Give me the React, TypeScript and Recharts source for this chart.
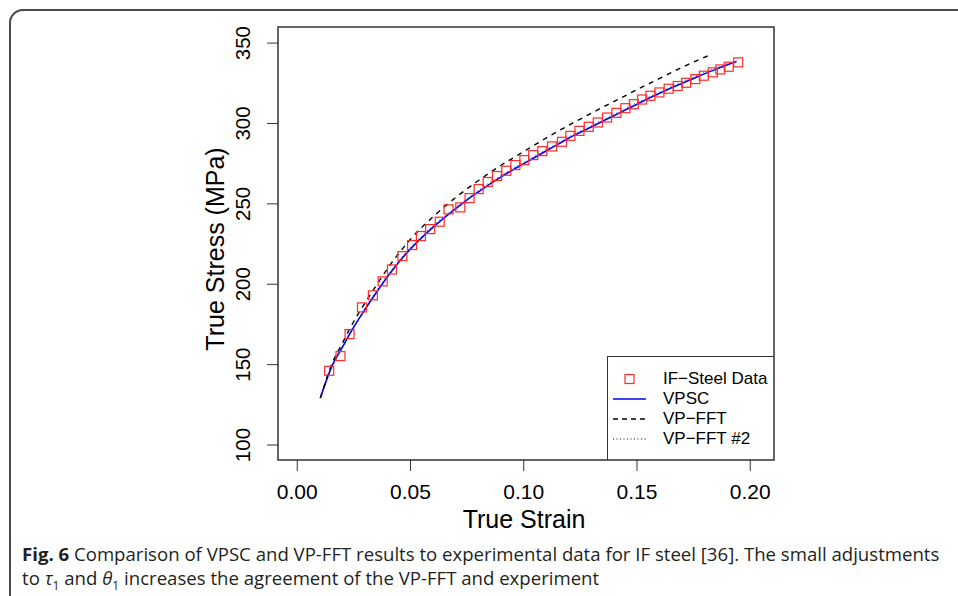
import {
  ComposedChart,
  Line,
  ReferenceArea,
  Scatter,
  XAxis,
  YAxis,
} from "recharts";

type Pt = { x: number; y: number };

// IF-steel experimental points (strain, stress MPa)
const steelData: Pt[] = [
  { x: 0.0141, y: 146.2 },
  { x: 0.0191, y: 155.3 },
  { x: 0.0231, y: 169.0 },
  { x: 0.0286, y: 185.6 },
  { x: 0.0334, y: 193.1 },
  { x: 0.0377, y: 201.8 },
  { x: 0.0418, y: 209.2 },
  { x: 0.0464, y: 217.5 },
  { x: 0.0507, y: 224.4 },
  { x: 0.0546, y: 230.0 },
  { x: 0.0587, y: 234.3 },
  { x: 0.0629, y: 238.9 },
  { x: 0.0668, y: 246.6 },
  { x: 0.072, y: 247.8 },
  { x: 0.0761, y: 253.6 },
  { x: 0.0801, y: 259.2 },
  { x: 0.0841, y: 263.6 },
  { x: 0.0882, y: 267.3 },
  { x: 0.0923, y: 270.6 },
  { x: 0.0963, y: 274.1 },
  { x: 0.1003, y: 277.2 },
  { x: 0.1042, y: 280.3 },
  { x: 0.1082, y: 282.8 },
  { x: 0.1125, y: 285.7 },
  { x: 0.1169, y: 288.6 },
  { x: 0.1206, y: 292.3 },
  { x: 0.1246, y: 295.4 },
  { x: 0.1287, y: 297.9 },
  { x: 0.1327, y: 300.6 },
  { x: 0.1368, y: 303.7 },
  { x: 0.1409, y: 306.6 },
  { x: 0.1449, y: 309.5 },
  { x: 0.1486, y: 312.0 },
  { x: 0.1523, y: 314.9 },
  { x: 0.1559, y: 317.2 },
  { x: 0.1599, y: 319.3 },
  { x: 0.164, y: 321.6 },
  { x: 0.168, y: 323.3 },
  { x: 0.1717, y: 325.3 },
  { x: 0.1758, y: 327.6 },
  { x: 0.1795, y: 329.7 },
  { x: 0.1835, y: 331.8 },
  { x: 0.1868, y: 333.6 },
  { x: 0.1905, y: 335.3 },
  { x: 0.1947, y: 338.0 },
];

const vpscCurve: Pt[] = [
  { x: 0.0102, y: 129.2 },
  { x: 0.015, y: 148 },
  { x: 0.02, y: 161 },
  { x: 0.025, y: 173.5 },
  { x: 0.03, y: 184.5 },
  { x: 0.035, y: 195 },
  { x: 0.04, y: 205 },
  { x: 0.045, y: 214 },
  { x: 0.05, y: 222 },
  { x: 0.055, y: 229 },
  { x: 0.06, y: 235.5 },
  { x: 0.065, y: 241.5 },
  { x: 0.07, y: 247 },
  { x: 0.075, y: 252.5 },
  { x: 0.08, y: 257.5 },
  { x: 0.085, y: 262.3 },
  { x: 0.09, y: 266.8 },
  { x: 0.095, y: 271 },
  { x: 0.1, y: 275 },
  { x: 0.105, y: 279 },
  { x: 0.11, y: 283 },
  { x: 0.115, y: 287 },
  { x: 0.12, y: 291 },
  { x: 0.125, y: 294.5 },
  { x: 0.13, y: 298 },
  { x: 0.135, y: 301.5 },
  { x: 0.14, y: 305 },
  { x: 0.145, y: 308.5 },
  { x: 0.15, y: 312 },
  { x: 0.155, y: 315.5 },
  { x: 0.16, y: 318.8 },
  { x: 0.165, y: 322 },
  { x: 0.17, y: 325 },
  { x: 0.175, y: 328 },
  { x: 0.18, y: 331 },
  { x: 0.185, y: 333.8 },
  { x: 0.19, y: 336.5 },
  { x: 0.194, y: 338.5 },
];

const vpfftCurve: Pt[] = [
  { x: 0.0102, y: 129.2 },
  { x: 0.015, y: 149.5 },
  { x: 0.02, y: 163.5 },
  { x: 0.025, y: 177 },
  { x: 0.03, y: 188.5 },
  { x: 0.035, y: 199.5 },
  { x: 0.04, y: 210 },
  { x: 0.045, y: 219.5 },
  { x: 0.05, y: 228 },
  { x: 0.06, y: 242 },
  { x: 0.07, y: 254 },
  { x: 0.08, y: 264.5 },
  { x: 0.09, y: 274 },
  { x: 0.1, y: 282.5 },
  { x: 0.11, y: 291 },
  { x: 0.12, y: 299 },
  { x: 0.13, y: 306.5 },
  { x: 0.14, y: 313.8 },
  { x: 0.15, y: 321 },
  { x: 0.16, y: 328 },
  { x: 0.17, y: 335 },
  { x: 0.1826, y: 342.8 },
];

const vpfft2Curve: Pt[] = [
  { x: 0.0102, y: 129.2 },
  { x: 0.015, y: 148.6 },
  { x: 0.02, y: 161.8 },
  { x: 0.025, y: 174.4 },
  { x: 0.03, y: 185.5 },
  { x: 0.035, y: 196 },
  { x: 0.04, y: 206 },
  { x: 0.05, y: 223 },
  { x: 0.06, y: 236.5 },
  { x: 0.07, y: 248 },
  { x: 0.08, y: 258.5 },
  { x: 0.09, y: 267.8 },
  { x: 0.1, y: 276 },
  { x: 0.11, y: 284 },
  { x: 0.12, y: 292 },
  { x: 0.13, y: 299 },
  { x: 0.14, y: 306 },
  { x: 0.15, y: 313 },
  { x: 0.16, y: 319.8 },
  { x: 0.17, y: 326 },
  { x: 0.18, y: 332 },
  { x: 0.19, y: 337.5 },
];

const xTicks = [0, 0.05, 0.1, 0.15, 0.2];
const yTicks = [100, 150, 200, 250, 300, 350];
const X_MIN = -0.0085;
const X_MAX = 0.2105;
const Y_MIN = 90.7;
const Y_MAX = 360;

const FONT = "'Liberation Sans', Arial, Helvetica, sans-serif";
const AXIS = "#333";

const Square = (props: any) => {
  const { cx, cy } = props;
  if (cx == null || cy == null) return null;
  return (
    <rect
      x={cx - 4.5}
      y={cy - 4.5}
      width={9}
      height={9}
      fill="none"
      stroke="#ff2a2a"
      strokeWidth={1.2}
    />
  );
};

const XTick = (props: any) => {
  const { x, y, payload } = props;
  return (
    <text
      x={x}
      y={y + 26}
      textAnchor="middle"
      fontSize={21}
      fontFamily={FONT}
      fill="#000"
    >
      {Number(payload.value).toFixed(2)}
    </text>
  );
};

const YTick = (props: any) => {
  const { x, y, payload } = props;
  const bx = x - 15;
  return (
    <text
      x={bx}
      y={y}
      transform={`rotate(-90 ${bx} ${y})`}
      textAnchor="middle"
      fontSize={20.5}
      fontFamily={FONT}
      fill="#000"
    >
      {payload.value}
    </text>
  );
};

const legendItems = [
  { label: "IF\u2212Steel Data", kind: "square" },
  { label: "VPSC", kind: "solid" },
  { label: "VP\u2212FFT", kind: "dashed" },
  { label: "VP\u2212FFT #2", kind: "dotted" },
];

function LegendBox() {
  return (
    <div
      style={{
        position: "absolute",
        left: 607,
        top: 356,
        width: 167,
        height: 104,
        borderLeft: `1.5px solid ${AXIS}`,
        borderTop: `1.5px solid ${AXIS}`,
        boxSizing: "border-box",
        fontFamily: FONT,
        fontSize: 17,
        color: "#000",
      }}
    >
      {legendItems.map((it, i) => (
        <div
          key={it.label}
          style={{
            position: "absolute",
            left: 0,
            top: 12 + i * 20,
            height: 20,
            width: 167,
            display: "flex",
            alignItems: "center",
          }}
        >
          <svg width={48} height={20} style={{ flex: "none" }}>
            {it.kind === "square" && (
              <rect x={17} y={5.5} width={9} height={9} fill="none" stroke="#ff2a2a" strokeWidth={1.2} />
            )}
            {it.kind === "solid" && (
              <line x1={5} x2={38} y1={10} y2={10} stroke="#0000ff" strokeWidth={1.5} />
            )}
            {it.kind === "dashed" && (
              <line x1={5} x2={38} y1={10} y2={10} stroke="#000" strokeWidth={1.3} strokeDasharray="5 4" />
            )}
            {it.kind === "dotted" && (
              <line x1={5} x2={38} y1={10} y2={10} stroke="#000" strokeWidth={1} strokeDasharray="1 2.5" />
            )}
          </svg>
          <span style={{ marginLeft: 7, whiteSpace: "nowrap" }}>{it.label}</span>
        </div>
      ))}
    </div>
  );
}

export default function App() {
  return (
    <div
      style={{
        position: "absolute",
        left: 0,
        top: 0,
        width: 958,
        height: 596,
        overflow: "hidden",
        background: "#fff",
      }}
    >
      <div
        style={{
          position: "absolute",
          left: 9,
          top: 9,
          width: 1000,
          height: 700,
          border: "2px solid #4a4a4a",
          borderRadius: 14,
        }}
      />
      <div style={{ position: "absolute", left: 0, top: 0 }}>
        <ComposedChart
          width={958}
          height={596}
          margin={{ top: 27, right: 184, bottom: 76, left: 218 }}
        >
          <XAxis
            type="number"
            dataKey="x"
            domain={[X_MIN, X_MAX]}
            ticks={xTicks}
            allowDataOverflow
            height={60}
            axisLine={false}
            tickLine={{ stroke: AXIS, strokeWidth: 1 }}
            tickSize={11}
            tick={<XTick />}
          />
          <YAxis
            type="number"
            dataKey="y"
            domain={[Y_MIN, Y_MAX]}
            ticks={yTicks}
            allowDataOverflow
            width={60}
            axisLine={false}
            tickLine={{ stroke: AXIS, strokeWidth: 1 }}
            tickSize={11}
            tick={<YTick />}
          />
          <ReferenceArea
            x1={X_MIN}
            x2={X_MAX}
            y1={Y_MIN}
            y2={Y_MAX}
            fill="none"
            fillOpacity={0}
            stroke={AXIS}
            strokeWidth={1.5}
          />
          <Scatter
            data={steelData}
            dataKey="y"
            shape={<Square />}
            isAnimationActive={false}
          />
          <Line
            data={vpscCurve}
            dataKey="y"
            type="monotone"
            stroke="#0000ff"
            strokeWidth={1.6}
            dot={false}
            isAnimationActive={false}
          />
          <Line
            data={vpfftCurve}
            dataKey="y"
            type="monotone"
            stroke="#000"
            strokeWidth={1.4}
            strokeDasharray="5 5"
            dot={false}
            isAnimationActive={false}
          />
          <Line
            data={vpfft2Curve}
            dataKey="y"
            type="monotone"
            stroke="#000"
            strokeWidth={1}
            strokeDasharray="1 3"
            strokeOpacity={0.6}
            dot={false}
            isAnimationActive={false}
          />
        </ComposedChart>
      </div>
      <div
        style={{
          position: "absolute",
          left: 524,
          top: 505,
          transform: "translateX(-50%)",
          fontFamily: FONT,
          fontSize: 25,
          whiteSpace: "nowrap",
          color: "#000",
        }}
      >
        True Strain
      </div>
      <div
        style={{
          position: "absolute",
          left: 215,
          top: 249,
          transform: "translate(-50%, -50%) rotate(-90deg)",
          fontFamily: FONT,
          fontSize: 25,
          whiteSpace: "nowrap",
          color: "#000",
        }}
      >
        True Stress (MPa)
      </div>
      <LegendBox />
      <div
        style={{
          position: "absolute",
          left: 22,
          top: 542,
          width: 930,
          fontFamily: "'Liberation Sans Narrow', 'Open Sans', sans-serif",
          fontSize: 18.6,
          lineHeight: "24px",
          color: "#231f20",
        }}
      >
        <div style={{ whiteSpace: "nowrap" }}>
          <b>Fig. 6</b> Comparison of VPSC and VP-FFT results to experimental data for IF steel [36]. The small adjustments
        </div>
        <div style={{ whiteSpace: "nowrap" }}>
          to <i>τ</i>
          <sub style={{ fontSize: 12 }}>1</sub> and <i>θ</i>
          <sub style={{ fontSize: 12 }}>1</sub> increases the agreement of the VP-FFT and experiment
        </div>
      </div>
    </div>
  );
}
